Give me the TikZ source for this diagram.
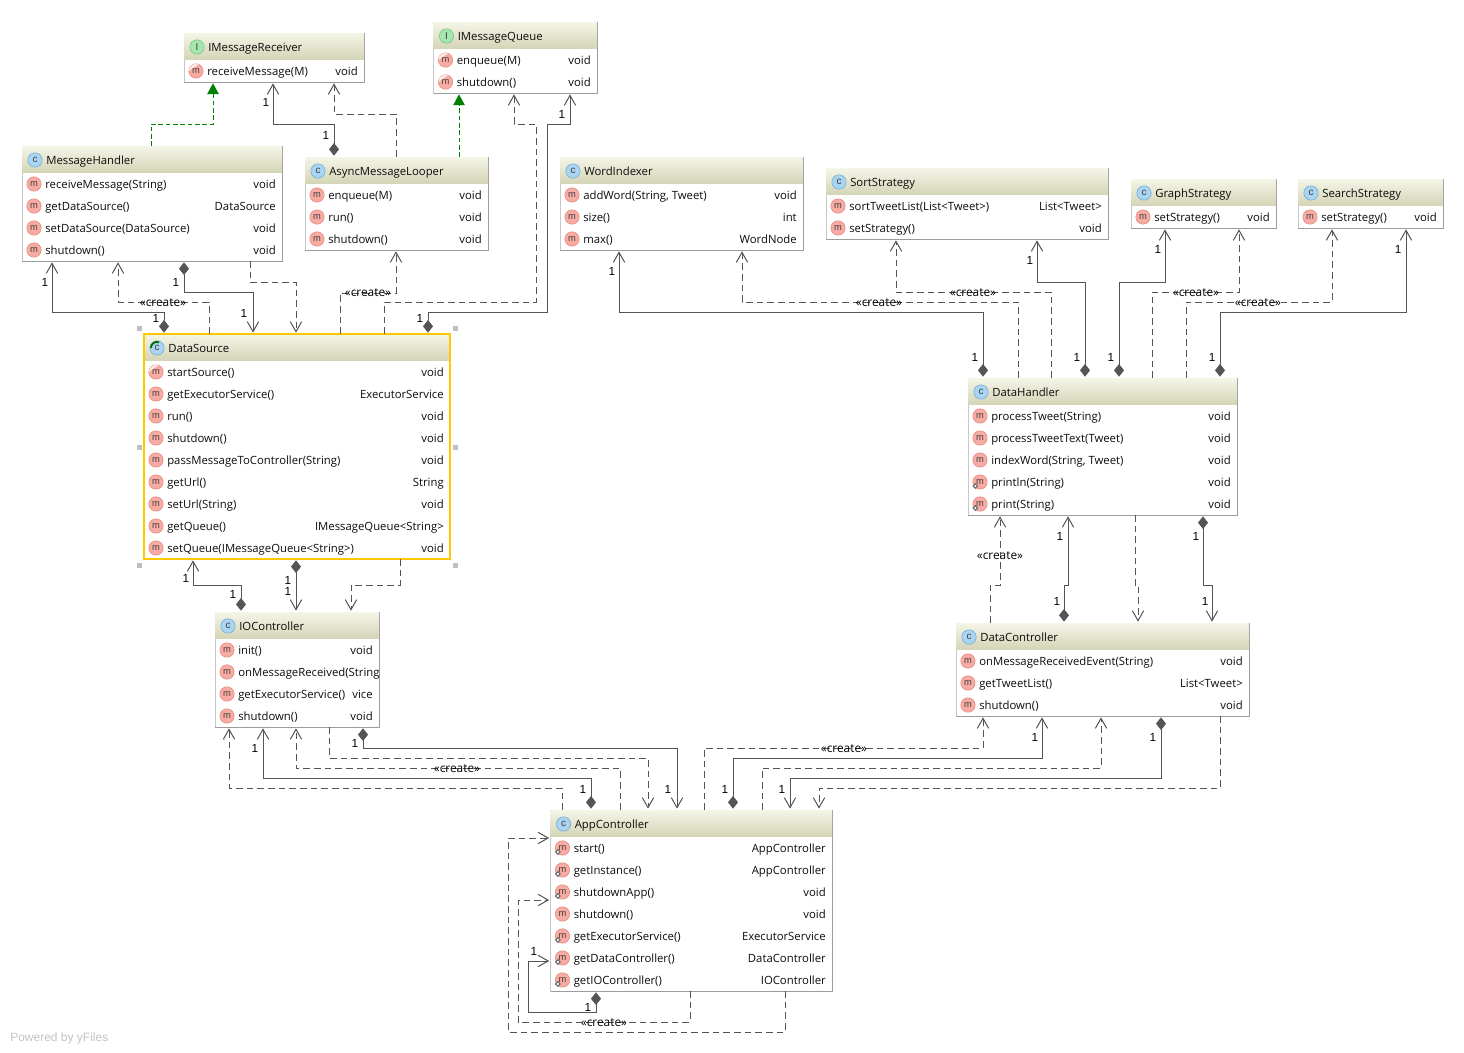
\documentclass[tikz,border=0pt]{standalone}
\usepackage{fontspec}
\setmainfont{Open Sans}
\newfontfamily\labelfont{Liberation Sans}
\usetikzlibrary{arrows.meta}

\definecolor{headtop}{HTML}{F5F5E8}
\definecolor{headbot}{HTML}{D5D5B8}
\definecolor{boxline}{HTML}{C8C8C8}
\definecolor{boxshade}{HTML}{9C9C9C}
\definecolor{lineclr}{HTML}{555555}
\definecolor{classfill}{HTML}{A9D4F2}
\definecolor{classline}{HTML}{6FA8D0}
\definecolor{ifacefill}{HTML}{A6E6AE}
\definecolor{ifaceline}{HTML}{70C47A}
\definecolor{methfill}{HTML}{F8ABA3}
\definecolor{methline}{HTML}{E2857C}
\definecolor{selclr}{HTML}{FFC800}

\tikzset{
  umlbox/.style={rectangle, draw=boxline, fill=white, inner sep=0, outer sep=0, anchor=north west},
  umlhead/.style={rectangle, top color=headtop, bottom color=headbot, inner sep=0, outer sep=0, anchor=north west},
  umltext/.style={inner sep=0, font=\fontsize{8.5}{10}\selectfont, text=black!95},
  iconc/.style={circle, draw=classline, fill=classfill, inner sep=0, minimum size=10.8pt, font=\fontsize{7.5}{8}\selectfont\labelfont, text=black!75},
  iconI/.style={iconc, draw=ifaceline, fill=ifacefill},
  iconm/.style={iconc, draw=methline, fill=methfill, font=\fontsize{7}{8}\selectfont\labelfont},
  assoc/.style={draw=lineclr, line width=0.75pt, shorten <=1pt, shorten >=1pt,
    {Diamond[length=9.5pt,width=7.5pt,fill=lineclr]}-{Straight Barb[length=7.5pt,width=8.5pt]}},
  dep/.style={draw=lineclr, line width=0.75pt, dash pattern=on 5pt off 3pt, shorten >=1pt, -{Straight Barb[length=7.5pt,width=8.5pt]}},
  realize/.style={draw=black!50!green, line width=0.75pt, dash pattern=on 3.5pt off 2pt, shorten >=1pt,
    -{Triangle[length=8pt,width=8.5pt,fill=black!50!green]}},
  mult/.style={inner sep=0, font=\fontsize{8.8}{10}\selectfont\labelfont},
  stereo/.style={inner sep=0, font=\fontsize{8.9}{10}\selectfont}
}

\newcommand{\moverN}[1]{}
\newcommand{\moverA}[1]{\fill[white, opacity=0.75] ([shift={(180:5.4pt)}]#1.center) arc (180:70:5.4pt) -- cycle;}
\newcommand{\moverS}[1]{\draw[black!60, fill=white, line width=0.8pt] ([shift={(-5.2pt,-3pt)}]#1.center) -- ++(1.7pt,-1.7pt) -- ++(1.7pt,1.7pt) -- ++(-1.7pt,1.7pt) -- cycle;}

% [letter]{name}{left}{top}{width}{rows}{title}{kind/method/type list}
\newcommand{\umlclass}[8][c]{
  \node[umlbox, minimum width=#5*0.75pt, minimum height={(27+22*#6)*0.75pt}] (#2) at (#3,#4) {};
  \draw[boxshade, line width=0.75pt] (#2.north east) -- (#2.south east) -- (#2.south west);
  \node[umlhead, minimum width=#5*0.75pt, minimum height=19.5pt] (#2-head) at (#2.north west) {};
  \node[icon#1] (#2-icon) at (#3+13,#4+14) {#1};
  \node[umltext, anchor=base west] (#2-title) at (#3+24,#4+18) {#7};
  \begin{scope}
    \clip (#2.north west) rectangle (#2.south east);
    \foreach[count=\i from 0] \mk/\mn/\mt in {#8} {
      \node[iconm] (#2-icon\i) at (#3+12,#4+38+22*\i) {m};
      \csname mover\mk\endcsname{#2-icon\i}
      \node[umltext, anchor=base west] (#2-meth\i) at (#3+23,#4+42+22*\i) {\mn};
      \node[umltext, anchor=base east] (#2-type\i) at (#3+#5-6,#4+42+22*\i) {\mt};
    }
  \end{scope}
}

\begin{document}
\begin{tikzpicture}[x=0.75pt, y=-0.75pt]

\useasboundingbox (0,0) rectangle (1464,1053);

\umlclass[I]{IMessageReceiver}{184}{33}{180}{1}{IMessageReceiver}{A/receiveMessage(M)/void}
\umlclass[I]{IMessageQueue}{433.5}{22}{163.5}{2}{IMessageQueue}{A/enqueue(M)/void, A/shutdown()/void}
\umlclass{MessageHandler}{22}{146}{260}{4}{MessageHandler}{N/receiveMessage(String)/void, N/getDataSource()/DataSource, N/setDataSource(DataSource)/void, N/shutdown()/void}
\umlclass{AsyncMessageLooper}{305}{157}{183}{3}{AsyncMessageLooper}{N/enqueue(M)/void, N/run()/void, N/shutdown()/void}
\umlclass{WordIndexer}{560}{157}{243}{3}{WordIndexer}{N/{addWord(String, Tweet)}/void, N/size()/int, N/max()/WordNode}
\umlclass{SortStrategy}{826}{168}{282}{2}{SortStrategy}{N/sortTweetList(List<Tweet>)/List<Tweet>, N/setStrategy()/void}
\umlclass{GraphStrategy}{1131}{179}{145}{1}{GraphStrategy}{N/setStrategy()/void}
\umlclass{SearchStrategy}{1298}{179}{145}{1}{SearchStrategy}{N/setStrategy()/void}
\umlclass{DataSource}{144}{334}{306}{9}{DataSource}{A/startSource()/void, N/getExecutorService()/ExecutorService, N/run()/void, N/shutdown()/void, N/passMessageToController(String)/void, N/getUrl()/String, N/setUrl(String)/void, N/getQueue()/IMessageQueue<String>, N/setQueue(IMessageQueue<String>)/void}
\umlclass{DataHandler}{968}{378}{269}{5}{DataHandler}{N/processTweet(String)/void, N/processTweetText(Tweet)/void, N/{indexWord(String, Tweet)}/void, S/println(String)/void, S/print(String)/void}
\umlclass{IOController}{215}{612}{164}{4}{IOController}{N/init()/void, N/onMessageReceived(String/, N/getExecutorService()/vice, N/shutdown()/void}
\umlclass{DataController}{956}{623}{293}{3}{DataController}{N/onMessageReceivedEvent(String)/void, N/getTweetList()/List<Tweet>, N/shutdown()/void}
\umlclass{AppController}{550.5}{810}{281.5}{7}{AppController}{S/start()/AppController, S/getInstance()/AppController, S/shutdownApp()/void, N/shutdown()/void, S/getExecutorService()/ExecutorService, S/getDataController()/DataController, S/getIOController()/IOController}

\draw[selclr, line width=1.5pt] (DataSource.north west) rectangle (DataSource.south east);
\draw[black!55!green, line width=1.4pt] ([shift={(180:4.6pt)}]DataSource-icon.center) arc (180:70:4.6pt);
\foreach \hx/\hy in {139/328, 455/328, 139/447, 455/447, 139/565, 455/565}
  \fill[black!25] (\hx-2.5,\hy-2.5) rectangle ++(5,5);

\draw[realize] (151,0 |- MessageHandler.north) |- (213,124) -- (213,0 |- IMessageReceiver.south);
\draw[realize] (459,0 |- AsyncMessageLooper.north) -- (459,0 |- IMessageQueue.south);

\draw[assoc] (334,0 |- AsyncMessageLooper.north) |- (273,124) -- (273,0 |- IMessageReceiver.south);
\draw[dep] (396,0 |- AsyncMessageLooper.north) |- (334,114) -- (334,0 |- IMessageReceiver.south);
\draw[dep] (340,0 |- DataSource.north) |- (396,293) -- (396,0 |- AsyncMessageLooper.south);
\draw[assoc] (164,0 |- DataSource.north) |- (52,312) -- (52,0 |- MessageHandler.south);
\draw[dep] (209,0 |- DataSource.north) |- (118,302) -- (118,0 |- MessageHandler.south);
\draw[assoc] (184,0 |- MessageHandler.south) |- (253,292) -- (253,0 |- DataSource.north);
\draw[dep] (250,0 |- MessageHandler.south) |- (296,282) -- (296,0 |- DataSource.north);
\draw[dep] (384,0 |- DataSource.north) |- (536,302) |- (514,124) -- (514,0 |- IMessageQueue.south);
\draw[assoc] (428,0 |- DataSource.north) |- (547,312) |- (570,124) -- (570,0 |- IMessageQueue.south);

\draw[assoc] (983,0 |- DataHandler.north) |- (619,312) -- (619,0 |- WordIndexer.south);
\draw[dep] (1018,0 |- DataHandler.north) |- (742,302) -- (742,0 |- WordIndexer.south);
\draw[dep] (1051,0 |- DataHandler.north) |- (896,292) -- (896,0 |- SortStrategy.south);
\draw[assoc] (1085,0 |- DataHandler.north) |- (1037,282) -- (1037,0 |- SortStrategy.south);
\draw[assoc] (1119,0 |- DataHandler.north) |- (1165,282) -- (1165,0 |- GraphStrategy.south);
\draw[dep] (1152,0 |- DataHandler.north) |- (1239,292) -- (1239,0 |- GraphStrategy.south);
\draw[dep] (1186,0 |- DataHandler.north) |- (1332,302) -- (1332,0 |- SearchStrategy.south);
\draw[assoc] (1220,0 |- DataHandler.north) |- (1406,312) -- (1406,0 |- SearchStrategy.south);

\draw[assoc] (241,0 |- IOController.north) |- (193,585) -- (193,0 |- DataSource.south);
\draw[assoc] (296,0 |- DataSource.south) -- (296,0 |- IOController.north);
\draw[dep] (400,0 |- DataSource.south) |- (351,585) -- (351,0 |- IOController.north);

\draw[dep] (562,0 |- AppController.north) |- (229,788) -- (229,0 |- IOController.south);
\draw[assoc] (591,0 |- AppController.north) |- (263,778) -- (263,0 |- IOController.south);
\draw[dep] (620,0 |- AppController.north) |- (296,768) -- (296,0 |- IOController.south);
\draw[dep] (329,0 |- IOController.south) |- (648,758) -- (648,0 |- AppController.north);
\draw[assoc] (363,0 |- IOController.south) |- (677,748) -- (677,0 |- AppController.north);

\draw[dep] (704,0 |- AppController.north) |- (983,748) -- (983,0 |- DataController.south);
\draw[assoc] (733,0 |- AppController.north) |- (1042,758) -- (1042,0 |- DataController.south);
\draw[dep] (762,0 |- AppController.north) |- (1101,768) -- (1101,0 |- DataController.south);
\draw[assoc] (1161,0 |- DataController.south) |- (790,778) -- (790,0 |- AppController.north);
\draw[dep] (1220,0 |- DataController.south) |- (819,788) -- (819,0 |- AppController.north);

\draw[dep] (990,0 |- DataController.north) |- (1000,585) -- (1000,0 |- DataHandler.south);
\draw[assoc] (1064,0 |- DataController.north) |- (1068,585) -- (1068,0 |- DataHandler.south);
\draw[dep] (1135,0 |- DataHandler.south) |- (1138,585) -- (1138,0 |- DataController.north);
\draw[assoc] (1203,0 |- DataHandler.south) |- (1212,585) -- (1212,0 |- DataController.north);

\draw[dep] (785,0 |- AppController.south) |- (508,1032) |- (AppController.west |- 0,838);
\draw[dep] (690,0 |- AppController.south) |- (518,1022) |- (AppController.west |- 0,900);
\draw[assoc] (596,0 |- AppController.south) |- (528,1012) |- (AppController.west |- 0,961);

\foreach \lx/\ly [count=\i] in {266/102, 326/135, 562/114, 45/282, 156/318, 176/282, 244/313, 420/318, 612/271, 975/357, 1030/260, 1077/357, 1158/249, 1111/357, 1398/249, 1212/357, 186/578, 233/594, 288/580, 288/591, 255/748, 583/789, 355/743, 668/789, 1035/737, 725/789, 1153/737, 782/789, 1060/536, 1057/601, 1196/536, 1205/601, 534/951, 588/1007}
  \node[mult] (one\i) at (\lx,\ly) {1};

\foreach \lx/\ly [count=\i] in {163/303, 368/293, 879/303, 973/293, 1196/293, 1258/303, 457/769, 844/749, 1000/556, 604/1023}
  \node[stereo] (create\i) at (\lx,\ly) {«create»};

\node[anchor=base west, inner sep=0, text=black!24, font=\fontsize{9}{10}\selectfont\labelfont] (powered) at (10,1041) {Powered by yFiles};

\end{tikzpicture}
\end{document}
